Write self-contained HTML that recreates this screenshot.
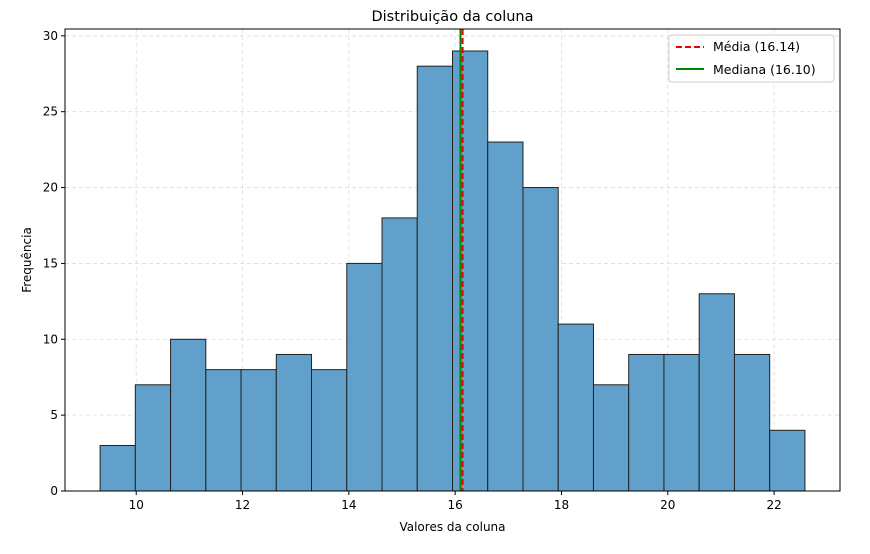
<!DOCTYPE html>
<html><head><meta charset="utf-8"><style>
body{margin:0;background:#fff;font-family:"Liberation Sans","DejaVu Sans",sans-serif;}
svg text{font-family:"DejaVu Sans","Liberation Sans",sans-serif;}
</style></head><body>
<svg id="chart" width="870" height="549"></svg>
<script>
const counts=[3,7,10,8,8,9,8,15,18,28,29,23,20,11,7,9,9,13,9,4];
const binStart=9.32, binEnd=22.58;
const xTicks=[10,12,14,16,18,20,22];
const yTicks=[0,5,10,15,20,25,30];
const meanVal=16.14, medianVal=16.10;
const L=65,R=840,T=29,B=491;
const xMin=8.66,xMax=23.24,yMin=0,yMax=30.45;
const sx=v=>L+(v-xMin)/(xMax-xMin)*(R-L);
const sy=v=>B-(v-yMin)/(yMax-yMin)*(B-T);
const svg=document.getElementById('chart');
const NS='http://www.w3.org/2000/svg';
function mk(t,a,p){const e=document.createElementNS(NS,t);for(const k in a)e.setAttribute(k,a[k]);(p||svg).appendChild(e);return e;}
// grid
xTicks.forEach(v=>{const g=mk('line',{x1:sx(v),x2:sx(v),y1:T,y2:B,stroke:'#ddd','stroke-dasharray':'4,3','stroke-width':0.8});

});
yTicks.forEach(v=>{const g=mk('line',{x1:L,x2:R,y1:sy(v),y2:sy(v),stroke:'#ddd','stroke-dasharray':'4,3','stroke-width':0.8});

});
const w=(binEnd-binStart)/counts.length;
counts.forEach((c,i)=>{const x0=sx(binStart+i*w),x1=sx(binStart+(i+1)*w);
const r=mk('rect',{x:x0,y:sy(c),width:x1-x0,height:sy(0)-sy(c),fill:'#62a0cc',stroke:'#222','stroke-width':1});

});
const ml=mk('line',{x1:sx(meanVal),x2:sx(meanVal),y1:T,y2:B,stroke:'#e00','stroke-width':2,'stroke-dasharray':'6,3'});


const dl=mk('line',{x1:sx(medianVal),x2:sx(medianVal),y1:T,y2:B,stroke:'#080','stroke-width':2});


const fr=mk('rect',{x:L,y:T,width:R-L,height:B-T,fill:'none',stroke:'#000','stroke-width':1});


xTicks.forEach(v=>{mk('line',{x1:sx(v),x2:sx(v),y1:B,y2:B+4,stroke:'#000'});
const t=mk('text',{x:sx(v),y:B+18,'text-anchor':'middle','font-size':12,fill:'#000'});t.textContent=v;

});
yTicks.forEach(v=>{mk('line',{x1:L-4,x2:L,y1:sy(v),y2:sy(v),stroke:'#000'});
const t=mk('text',{x:L-7,y:sy(v)+4,'text-anchor':'end','font-size':12,fill:'#000'});t.textContent=v;

});
const tt=mk('text',{x:(L+R)/2,y:21,'text-anchor':'middle','font-size':14.5});tt.textContent='Distribuição da coluna';


const xt=mk('text',{x:(L+R)/2,y:531,'text-anchor':'middle','font-size':12});xt.textContent='Valores da coluna';


const yt=mk('text',{x:31,y:(T+B)/2,'text-anchor':'middle','font-size':12,transform:'rotate(-90 31 '+((T+B)/2)+')'});yt.textContent='Frequência';


const lg=mk('g',{});


mk('rect',{x:669,y:35,width:165,height:47,fill:'#fff',stroke:'#ccc',rx:3},lg);
mk('line',{x1:676,x2:704,y1:47,y2:47,stroke:'#e00','stroke-width':2,'stroke-dasharray':'6,3'},lg);
const l1=mk('text',{x:713,y:51,'font-size':12.5},lg);l1.textContent='Média (16.14)';


mk('line',{x1:676,x2:704,y1:69,y2:69,stroke:'#080','stroke-width':2},lg);
const l2=mk('text',{x:713,y:74,'font-size':12.5},lg);l2.textContent='Mediana (16.10)';


</script>
</body></html>
